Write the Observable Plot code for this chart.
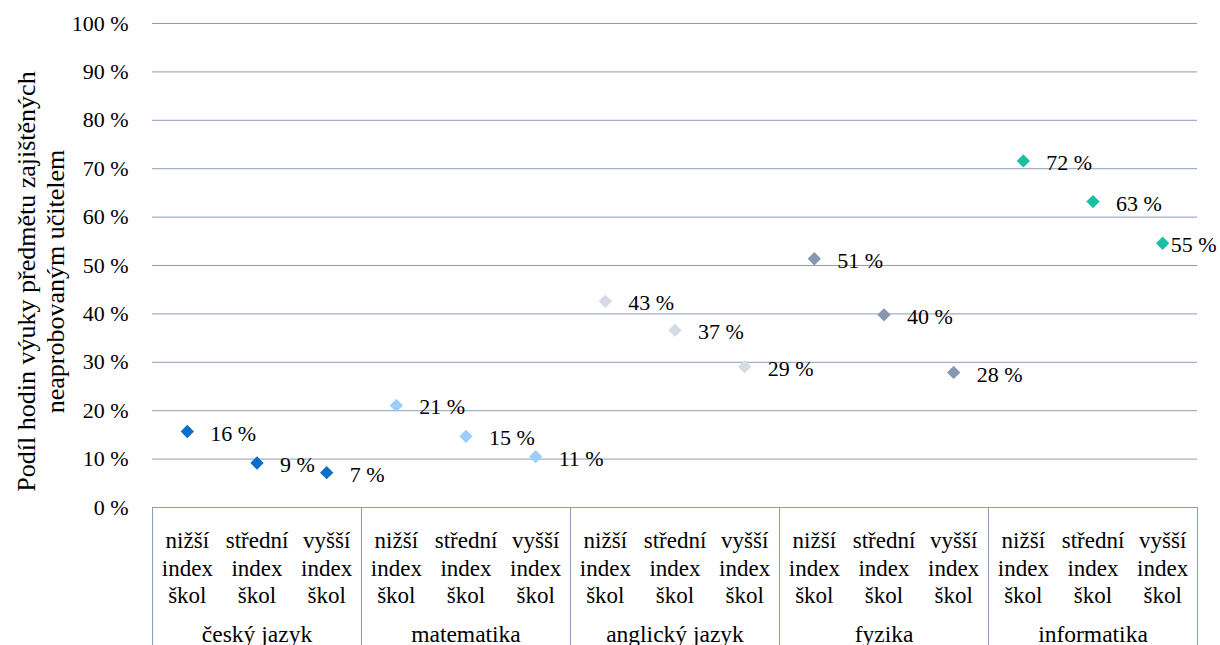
<!DOCTYPE html>
<html>
<head>
<meta charset="utf-8">
<script src="https://cdn.jsdelivr.net/npm/d3@7"></script>
<script src="https://cdn.jsdelivr.net/npm/@observablehq/plot@0.6"></script>
<style>
  html, body { margin: 0; padding: 0; background: white; }
  svg text { font-family: 'Liberation Serif', 'Times New Roman', serif; }
  g[aria-label="y-label"] text { letter-spacing: 0.5px; }
</style>
</head>
<body>
<div id="chart"></div>
<script>
const subjects = ["český jazyk", "matematika", "anglický jazyk", "fyzika", "informatika"];
const levels = ["nižší\nindex\nškol", "střední\nindex\nškol", "vyšší\nindex\nškol"];
const colors = ["#0a6fc6", "#9dcdfb", "#d5dbe3", "#8597b2", "#1abfa6"];
// estimated values (%) per subject: nižší, střední, vyšší
const cesky = [15.7, 9.2, 7.2];
const matematika = [21.1, 14.7, 10.5];
const anglicky = [42.6, 36.6, 29.1];
const fyzika = [51.4, 39.8, 27.9];
const informatika = [71.6, 63.2, 54.6];
// displayed data labels
const labelsCesky = [16, 9, 7];
const labelsMatematika = [21, 15, 11];
const labelsAnglicky = [43, 37, 29];
const labelsFyzika = [51, 40, 28];
const labelsInformatika = [72, 63, 55];
const yTicks = [0, 10, 20, 30, 40, 50, 60, 70, 80, 90, 100];
const yLabel = "Podíl hodin výuky předmětu zajištěných\nneaprobovaným učitelem";

const values = [cesky, matematika, anglicky, fyzika, informatika];
const labels = [labelsCesky, labelsMatematika, labelsAnglicky, labelsFyzika, labelsInformatika];

const rows = subjects.flatMap((s, si) => levels.map((lv, li) => ({
  subject: s, level: lv, i: si * 3 + li, value: values[si][li], label: labels[si][li] + " %"
})));
const nCat = subjects.length * levels.length;
const lastIdx = nCat - 1;

const font = "'Liberation Serif', 'Times New Roman', serif";
const gridColor = "#8c9dbb";
const boundaries = d3.range(0, nCat + 1, levels.length);

const chart = Plot.plot({
  width: 1220,
  height: 645,
  marginLeft: 152,
  marginRight: 23,
  marginTop: 23,
  marginBottom: 138,
  style: {fontFamily: font, fontSize: "22px", color: "black", background: "white", overflow: "visible"},
  x: {domain: [0, nCat], axis: null, label: null},
  y: {domain: [0, 100], axis: null, label: null},
  color: {domain: subjects, range: colors},
  marks: [
    Plot.gridY(yTicks, {stroke: gridColor, strokeOpacity: 1, strokeWidth: 1}),
    Plot.axisY(yTicks, {tickSize: 0, tickPadding: 24, tickFormat: d => d + " %", fontSize: 22, fontFamily: font, fill: "black", label: null}),
    Plot.axisX(boundaries, {tickSize: 138, tickFormat: () => "", stroke: gridColor, strokeOpacity: 1, label: null}),
    Plot.axisX(rows.map(d => d.i + 0.5), {tickSize: 0, tickPadding: 21, lineHeight: 1.2, fontSize: 23, fontFamily: font, fill: "black", label: null,
      tickFormat: d => levels[Math.floor(d) % levels.length]}),
    Plot.axisX(subjects.map((s, si) => si * levels.length + levels.length / 2), {tickSize: 0, tickPadding: 118, fontSize: 23.5, fontFamily: font, fill: "black", label: null,
      tickFormat: d => subjects[Math.floor(d / levels.length)]}),
    Plot.dot(rows, {x: d => d.i + 0.5, y: "value", symbol: "diamond2", r: 6, fill: "subject", stroke: null}),
    Plot.text(rows.filter(d => d.i !== lastIdx), {x: d => d.i + 0.5, y: "value", text: "label", textAnchor: "start", dx: 23, dy: 2, fill: "black", fontSize: 22, fontFamily: font}),
    Plot.text(rows.filter(d => d.i === lastIdx), {x: d => d.i + 0.5, y: "value", text: "label", textAnchor: "start", dx: 8, dy: 2, fill: "black", fontSize: 22, fontFamily: font}),
    Plot.text([yLabel], {frameAnchor: "left", rotate: -90, dx: -112, dy: 16, textAnchor: "middle", lineAnchor: "middle", lineHeight: 1.08, fill: "black", fontSize: 26, fontFamily: font, ariaLabel: "y-label"})
  ]
});
document.getElementById("chart").appendChild(chart);
</script>
</body>
</html>
